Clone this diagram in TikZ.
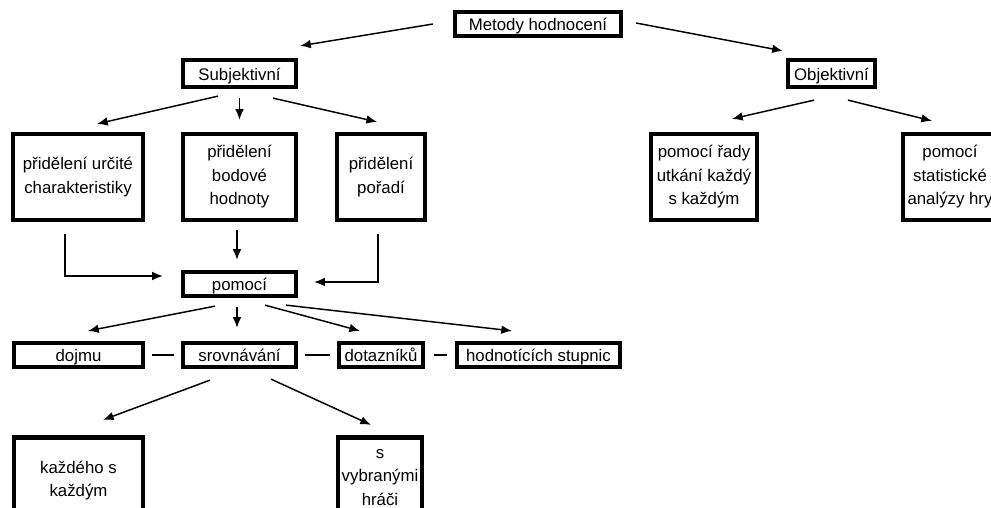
\documentclass[tikz,border=0pt]{standalone}
\usepackage{fontspec}
\setmainfont{Liberation Sans}
\usetikzlibrary{arrows.meta}

\begin{document}
\begin{tikzpicture}[x=0.75pt, y=-0.75pt,
	box/.style={draw, line width=3.2pt, inner sep=0pt, text height=12pt, text depth=2pt, font=\fontsize{12.6}{17.6}\selectfont},
	multi/.style={draw, line width=3.2pt, inner sep=0pt, align=center, font=\fontsize{12.6}{17.6}\selectfont},
	arr/.style={line width=1.1pt, -{Latex[length=8pt,width=6.5pt]}},
	link/.style={line width=1.1pt, shorten <=5pt, shorten >=5pt}]
	\useasboundingbox (0,0) rectangle (991,507);
	\clip (0,0) rectangle (991,507);
	\node[box, minimum width=124.5pt, minimum height=18pt] (metody) at (538,24) {Metody hodnocení};
	\node[box, minimum width=84.75pt, minimum height=20.25pt] (subj) at (239.5,73.5) {Subjektivní};
	\node[box, minimum width=65.25pt, minimum height=20.25pt] (obj) at (831.5,73.5) {Objektivní};
	\node[multi, minimum width=97.5pt, minimum height=64.5pt] (urc) at (78,177) {přidělení určité\\charakteristiky};
	\node[multi, minimum width=84.75pt, minimum height=64.5pt] (bod) at (239.5,177) {přidělení\\bodové\\hodnoty};
	\node[multi, minimum width=66pt, minimum height=64.5pt] (por) at (381,177) {přidělení\\pořadí};
	\node[multi, minimum width=79.5pt, minimum height=64.5pt] (rady) at (704,177) {pomocí řady\\utkání každý\\s každým};
	\node[multi, minimum width=70.5pt, minimum height=64.5pt] (stat) at (950,177) {pomocí\\statistické\\analýzy hry};
	\node[box, minimum width=84.75pt, minimum height=18pt] (pomoci) at (239.5,284) {pomocí};
	\node[box, minimum width=96.75pt, minimum height=18pt] (dojmu) at (78.5,355) {dojmu};
	\node[box, minimum width=84.75pt, minimum height=18pt] (srov) at (239.5,355) {srovnávání};
	\node[box, minimum width=63pt, minimum height=18pt] (dotaz) at (381,355) {dotazníků};
	\node[box, minimum width=122.25pt, minimum height=18pt] (hodn) at (538.5,355) {hodnotících stupnic};
	\node[multi, minimum width=96.75pt, minimum height=64.5pt] (kazd) at (78.5,480.5) {každého s\\každým};
	\node[multi, minimum width=63pt, minimum height=60pt] (vybr) at (380,477.5) {s\\vybranými\\hráči};
	% arrows
	\draw[arr] ([shift={(-20,0)}]metody.west) -- ([shift={(2,-12)}]subj.north east);
	\draw[arr] ([shift={(13,-1)}]metody.east) -- ([shift={(-3,-7)}]obj.north west);
	\draw[arr] ([shift={(-21.5,7)}]subj.south) -- ([shift={(19,-8)}]urc.north);
	\draw[arr] ([shift={(0,9)}]subj.south) -- ([shift={(0,-12)}]bod.north);
	\draw[arr] ([shift={(33.5,9)}]subj.south) -- ([shift={(-4,-10)}]por.north);
	\draw[arr] ([shift={(-17.5,11)}]obj.south) -- ([shift={(28,-13)}]rady.north);
	\draw[arr] ([shift={(16.5,11)}]obj.south) -- ([shift={(-18,-11)}]stat.north);
	\draw[arr] ([shift={(-2.5,8)}]bod.south) -- ([shift={(-2.5,-10)}]pomoci.north);
	\draw[arr] ([shift={(-13,12)}]urc.south) |- ([shift={(-18,-8)}]pomoci.west);
	\draw[arr] ([shift={(-3,12)}]por.south) |- ([shift={(16,-2)}]pomoci.east);
	\draw[arr] ([shift={(-24.5,8)}]pomoci.south) -- ([shift={(9.5,-10)}]dojmu.north);
	\draw[arr] ([shift={(-2.5,9)}]pomoci.south) -- ([shift={(-2.5,-13)}]srov.north);
	\draw[arr] ([shift={(25.5,7)}]pomoci.south) -- ([shift={(-21,-10)}]dotaz.north);
	\draw[arr] ([shift={(46.5,7)}]pomoci.south) -- ([shift={(-26.5,-10)}]hodn.north);
	\draw[link] (dojmu) -- (srov);
	\draw[link] (srov) -- (dotaz);
	\draw[link, shorten <=6.5pt, shorten >=6pt] (dotaz) -- (hodn);
	\draw[arr] ([shift={(-29.5,11)}]srov.south) -- ([shift={(24.5,-15.5)}]kazd.north);
	\draw[arr] ([shift={(31.5,10)}]srov.south) -- ([shift={(-9,-10.5)}]vybr.north);
\end{tikzpicture}
\end{document}
